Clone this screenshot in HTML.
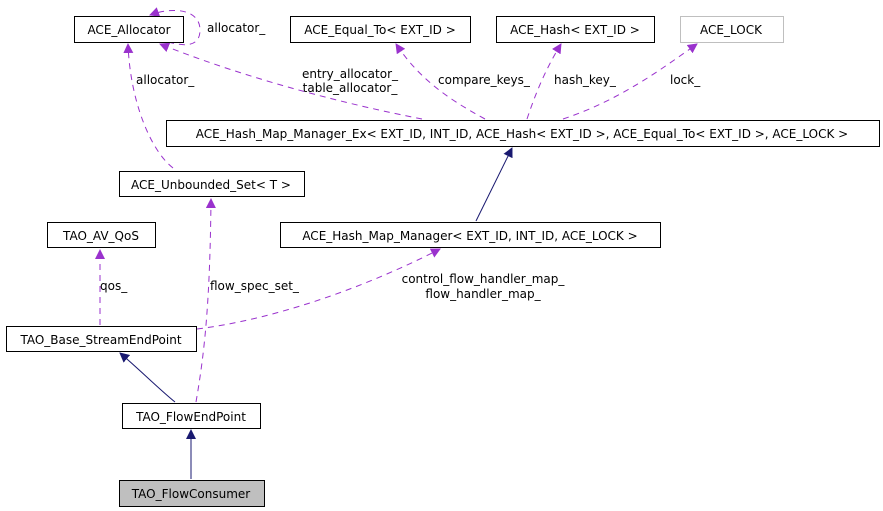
<!DOCTYPE html>
<html><head><meta charset="utf-8"><style>
html,body{margin:0;padding:0;background:#fff;}
svg{display:block;font-family:"DejaVu Sans","Liberation Sans",sans-serif;font-size:12px;}
</style></head><body>
<svg width="883" height="511" viewBox="0 0 883 511" xmlns="http://www.w3.org/2000/svg">
<defs>
<marker id="p" markerWidth="10" markerHeight="10" refX="9" refY="5" orient="auto" markerUnits="userSpaceOnUse"><path d="M0,0 L10,5 L0,10 z" fill="#9a32cd"/></marker>
<marker id="n" markerWidth="10" markerHeight="10" refX="9" refY="5" orient="auto" markerUnits="userSpaceOnUse"><path d="M0,0 L10,5 L0,10 z" fill="#191970"/></marker>
</defs>
<g fill="none" stroke="#9a32cd" stroke-dasharray="6,5">
<path d="M168,42 C190,48 200,44 200,30 C200,10 175,6 150,15" marker-end="url(#p)"/>
<path d="M422,119 C350,105 250,80 160,44" marker-end="url(#p)"/>
<path d="M173,168 C150,150 130,100 128,44" marker-end="url(#p)"/>
<path d="M485,119 C450,100 420,80 396,44" marker-end="url(#p)"/>
<path d="M527,119 C535,95 545,70 561,44" marker-end="url(#p)"/>
<path d="M563,119 C620,100 660,70 697,44" marker-end="url(#p)"/>
<path d="M100,325 L100,250" marker-end="url(#p)"/>
<path d="M196,402 C205,350 210,300 211,199" marker-end="url(#p)"/>
<path d="M197,329 C270,320 360,290 440,249" marker-end="url(#p)"/>
</g>
<g fill="none" stroke="#191970">
<path d="M476,221 L512,148" marker-end="url(#n)"/>
<path d="M175,402 C160,390 140,370 120,353" marker-end="url(#n)"/>
<path d="M191,479 L191,430" marker-end="url(#n)"/>
</g>
<g stroke="#000" fill="#fff">
<rect x="74.5" y="16.5" width="109" height="26"/>
<rect x="290.5" y="16.5" width="180" height="26"/>
<rect x="496.5" y="16.5" width="158" height="26"/>
<rect x="680.5" y="16.5" width="103" height="26" stroke="#bfbfbf"/>
<rect x="166.5" y="120.5" width="713" height="26"/>
<rect x="119.5" y="171.5" width="185" height="25"/>
<rect x="47.5" y="222.5" width="108" height="25"/>
<rect x="280.5" y="222.5" width="380" height="25"/>
<rect x="6.5" y="326.5" width="190" height="25"/>
<rect x="122.5" y="403.5" width="138" height="25"/>
<rect x="119.5" y="480.5" width="145" height="26" fill="#bfbfbf"/>
</g>
<g fill="#000">
<text x="129" y="34" text-anchor="middle">ACE_Allocator</text>
<text x="380" y="34" text-anchor="middle">ACE_Equal_To&lt; EXT_ID &gt;</text>
<text x="575" y="34" text-anchor="middle">ACE_Hash&lt; EXT_ID &gt;</text>
<text x="731" y="34" text-anchor="middle">ACE_LOCK</text>
<text x="522" y="138" text-anchor="middle">ACE_Hash_Map_Manager_Ex&lt; EXT_ID, INT_ID, ACE_Hash&lt; EXT_ID &gt;, ACE_Equal_To&lt; EXT_ID &gt;, ACE_LOCK &gt;</text>
<text x="211" y="189" text-anchor="middle">ACE_Unbounded_Set&lt; T &gt;</text>
<text x="101" y="240" text-anchor="middle">TAO_AV_QoS</text>
<text x="470" y="240" text-anchor="middle">ACE_Hash_Map_Manager&lt; EXT_ID, INT_ID, ACE_LOCK &gt;</text>
<text x="101" y="344" text-anchor="middle">TAO_Base_StreamEndPoint</text>
<text x="191" y="421" text-anchor="middle">TAO_FlowEndPoint</text>
<text x="191" y="498" text-anchor="middle">TAO_FlowConsumer</text>
<text x="207" y="32">allocator_</text>
<text x="136" y="84">allocator_</text>
<text x="350" y="78" text-anchor="middle">entry_allocator_</text>
<text x="350" y="92" text-anchor="middle">table_allocator_</text>
<text x="438" y="84">compare_keys_</text>
<text x="554" y="84">hash_key_</text>
<text x="670" y="84">lock_</text>
<text x="100" y="290">qos_</text>
<text x="210" y="290">flow_spec_set_</text>
<text x="483" y="283" text-anchor="middle">control_flow_handler_map_</text>
<text x="483" y="298" text-anchor="middle">flow_handler_map_</text>
</g>
</svg>
</body></html>
